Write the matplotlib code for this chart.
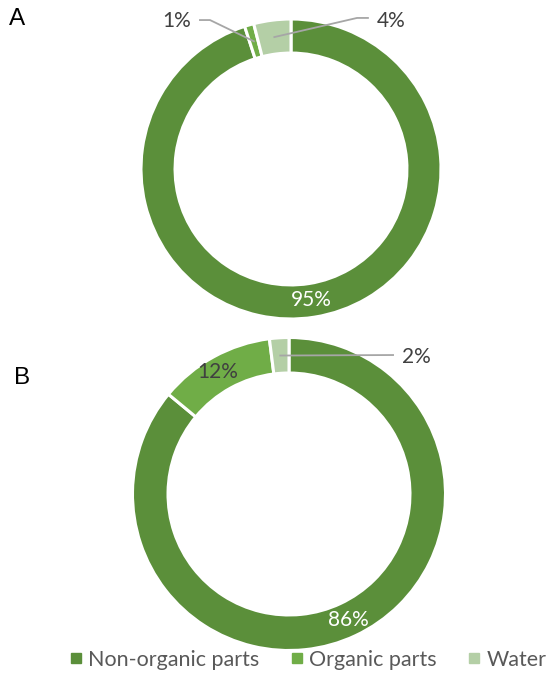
import matplotlib.pyplot as plt
from matplotlib.lines import Line2D
import numpy as np

plt.rcParams['font.family'] = ['Lato', 'DejaVu Sans']

# data
parts = ['Non-organic parts', 'Organic parts', 'Water']
colors = ['#5B8F3A', '#70AD47', '#B4CFA6']
share_a = [95, 1, 4]
share_b = [86, 12, 2]

# label placement per slice: None = inside the ring, else (elbow, line end, text)
leaders_a = [None,
             ((-0.54, 0.993), (-0.607, 0.993), (-0.76, 0.987)),
             ((0.44, 1.007), (0.513, 1.007), (0.667, 0.987))]
leaders_b = [None, 'inside_dark',
             ((0.665, 0.888), (0.665, 0.888), (0.815, 0.875))]

W, H = 552, 685
fig = plt.figure(figsize=(W / 100, H / 100), dpi=100)
ring = 0.227
rmid = 1 - ring / 2
fs = 15


def donut(cx, cy, r, vals, leaders, tag, tagxy):
    ax = fig.add_axes([(cx - r) / W, (H - cy - r) / H, 2 * r / W, 2 * r / H])
    ax.pie(vals, colors=colors, startangle=90, counterclock=False,
           radius=1, wedgeprops=dict(width=ring, edgecolor='white', linewidth=2.2))
    ax.set_xlim(-1, 1)
    ax.set_ylim(-1, 1)
    ax.set_aspect('equal')
    ax.axis('off')
    tot = sum(vals)
    start = 0
    for v, lead in zip(vals, leaders):
        mid = np.deg2rad((start + v / 2) / tot * 360)
        start += v
        x, y = rmid * np.sin(mid), rmid * np.cos(mid)
        txt = '%d%%' % round(v / tot * 100)
        if lead is None:
            ax.text(x, y, txt, color='white', fontsize=fs, ha='center', va='center')
        elif lead == 'inside_dark':
            ax.text(x - 0.03, y, txt, color='#404040', fontsize=fs, ha='center', va='center')
        else:
            elbow, end, tpos = lead
            ax.plot([x, elbow[0], end[0]], [y, elbow[1], end[1]], color='#A6A6A6',
                    lw=1.3, clip_on=False)
            ax.text(tpos[0], tpos[1], txt, color='#404040', fontsize=fs,
                    ha='center', va='center')
    fig.text(tagxy[0] / W, 1 - tagxy[1] / H, tag, fontsize=17.5, color='black',
             ha='center', va='center', family=['Liberation Sans', 'DejaVu Sans'])


donut(291, 169, 150, share_a, leaders_a, 'A', (17, 19))
donut(289, 494, 156.5, share_b, leaders_b, 'B', (22, 378))

handles = [Line2D([], [], marker='s', ls='', color=c, markersize=7.5) for c in colors]
fig.legend(handles, parts, ncol=3, loc='center left', bbox_to_anchor=(70 / W, 1 - 660 / H),
           frameon=False, fontsize=15.5, handlelength=0.55, handletextpad=0.3,
           columnspacing=1.45, labelcolor='#595959', borderpad=0, borderaxespad=0)

fig.savefig('out.png', dpi=100)
